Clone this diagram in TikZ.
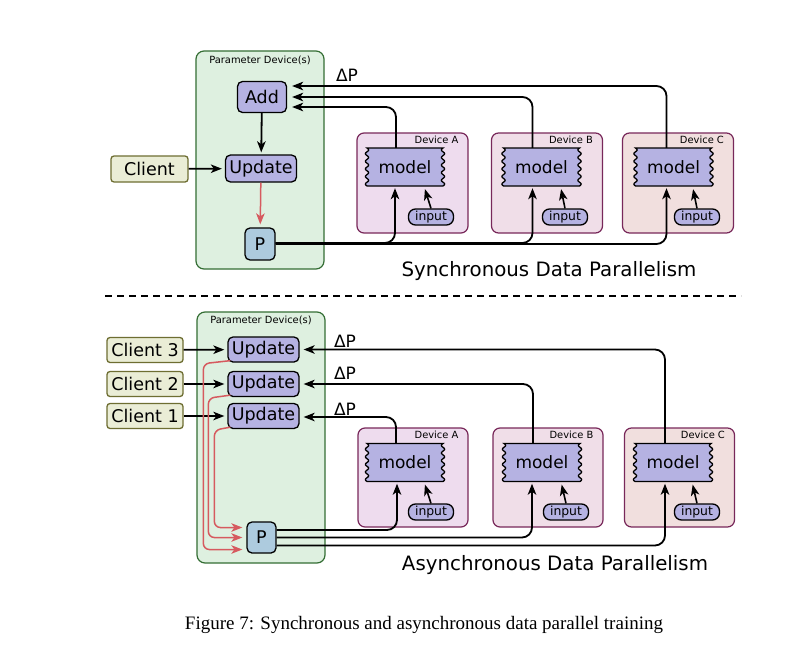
\documentclass[tikz,border=0pt]{standalone}
\usepackage{fontspec}
\setmainfont{DejaVu Sans}
\newfontfamily\capfont{Liberation Serif}
\usetikzlibrary{arrows.meta,calc}
\pgfdeclarelayer{back}
\pgfsetlayers{back,main}

\definecolor{lav}{RGB}{181,178,226}
\definecolor{pblue}{RGB}{173,203,222}
\definecolor{pgfill}{RGB}{222,240,224}
\definecolor{pgline}{RGB}{52,110,52}
\definecolor{devline}{RGB}{120,40,90}
\definecolor{devAfill}{RGB}{238,220,238}
\definecolor{devBfill}{RGB}{240,222,232}
\definecolor{devCfill}{RGB}{241,223,222}
\definecolor{clfill}{RGB}{234,237,214}
\definecolor{clline}{RGB}{110,110,50}
\definecolor{myred}{RGB}{214,90,95}

\tikzset{
  rnode/.style={draw=black, line width=1.3pt, rounded corners=5pt, fill=lav, inner sep=0pt,
    font=\fontsize{17.5}{20}\selectfont},
  pnode/.style={rnode, fill=pblue, minimum width=30pt, minimum height=32pt},
  cnode/.style={draw=clline, line width=1.3pt, rounded corners=3pt, fill=clfill, inner sep=0pt,
    minimum width=77pt, minimum height=26pt, font=\fontsize{17.5}{20}\selectfont},
  inode/.style={draw=black, line width=1.3pt, rounded corners=7pt, fill=lav, inner sep=0pt,
    minimum width=45pt, minimum height=16pt, font=\fontsize{12.4}{14}\selectfont},
  mnode/.style={inner sep=0pt, minimum width=76pt, minimum height=38pt, font=\fontsize{17}{20}\selectfont},
  mshape/.style={draw=black, line width=1.3pt, fill=lav},
  pbox/.style={draw=pgline, line width=1.2pt, rounded corners=8pt, fill=pgfill, inner sep=0pt},
  devbox/.style={draw=devline, line width=1.2pt, rounded corners=7pt, inner sep=0pt,
    minimum width=111pt, minimum height=100pt},
  smalllab/.style={inner sep=0pt, font=\fontsize{9.9}{11}\selectfont},
  title/.style={inner sep=0pt, font=\fontsize{19.8}{22}\selectfont},
  dplab/.style={inner sep=0pt, font=\fontsize{17}{20}\selectfont},
  arr/.style={-{Stealth[length=11pt,width=8.5pt,inset=3pt]}, line width=1.8pt},
  redarr/.style={-{Stealth[length=11pt,width=8.5pt,inset=3pt]}, line width=1.5pt, draw=myred},
}

\newcommand\modelshape[2]{%
  \filldraw[mshape] plot[domain=-19:19, samples=100, smooth] ({#1+38+1.6*sin(\x*360/7.6)},{#2+\x})
    -- plot[domain=19:-19, samples=100, smooth] ({#1-38-1.6*sin(\x*360/7.6)},{#2+\x}) -- cycle;}

\begin{document}
\begin{tikzpicture}[x=1pt,y=-1pt]
\useasboundingbox (0,0) rectangle (812,651);

% ================= TOP: synchronous =================
\begin{pgfonlayer}{back}
\fill[white] (0,0) rectangle (812,651);
\node[pbox, minimum width=128pt, minimum height=218pt] (pdT) at (260,160) {};
\node[devbox, fill=devAfill] (dAT) at (412.5,183) {};
\node[devbox, fill=devBfill] (dBT) at (547,183) {};
\node[devbox, fill=devCfill] (dCT) at (678,183) {};
\end{pgfonlayer}
\node[smalllab] (pdTl) at ([yshift=-10pt]pdT.north) {Parameter Device(s)};
\node[smalllab, anchor=east] (dATl) at ([xshift=-10pt,yshift=-7pt]dAT.north east) {Device A};
\node[smalllab, anchor=east] (dBTl) at ([xshift=-10pt,yshift=-7pt]dBT.north east) {Device B};
\node[smalllab, anchor=east] (dCTl) at ([xshift=-10pt,yshift=-7pt]dCT.north east) {Device C};

\node[rnode, minimum width=49pt, minimum height=31pt] (addT) at (262,97) {Add};
\node[rnode, minimum width=71pt, minimum height=27pt] (updT) at (261,168.5) {Update};
\node[pnode] (pT) at (260,244) {P};
\node[cnode] (clT) at (149.5,169) {Client};

\modelshape{405}{167}
\node[mnode] (mAT) at (405,167) {model};
\modelshape{541.5}{167}
\node[mnode] (mBT) at (541.5,167) {model};
\modelshape{673.5}{167}
\node[mnode] (mCT) at (673.5,167) {model};

\node[inode] (iAT) at (431,217) {input};
\node[inode] (iBT) at (565,217) {input};
\node[inode] (iCT) at (697,217) {input};

\draw[arr, shorten >=2pt] (addT) -- (updT);
\draw[redarr, shorten >=3pt] (updT) -- (pT);
\draw[arr, shorten >=3pt] (clT) -- (updT);

\draw[arr, rounded corners=10pt, shorten >=5pt] ([xshift=-9pt]mAT.north) |- ([yshift=-10pt]addT.east);
\draw[arr, rounded corners=10pt, shorten >=5pt] ([xshift=-9pt]mBT.north) |- (addT.east);
\draw[arr, rounded corners=10pt, shorten >=5pt] ([xshift=-7pt]mCT.north) |- ([yshift=11pt]addT.east);
\node[dplab] (dpT) at (347,75) {ΔP};

\draw[arr, rounded corners=10pt, shorten >=2pt] ([yshift=1pt]pT.east) -| ([xshift=-10pt]mAT.south);
\draw[arr, rounded corners=10pt, shorten >=2pt] ([yshift=1pt]pT.east) -| ([xshift=-9pt]mBT.south);
\draw[arr, rounded corners=10pt, shorten >=2pt] ([yshift=0pt]pT.east) -| ([xshift=-7pt]mCT.south);

\draw[arr, line width=1.6pt, shorten >=3pt] (iAT.north) -- ([xshift=19pt]mAT.south);
\draw[arr, line width=1.6pt, shorten >=3pt] (iBT.north) -- ([xshift=19pt]mBT.south);
\draw[arr, line width=1.6pt, shorten >=3pt] (iCT.north) -- ([xshift=19pt]mCT.south);

\node[title] (tT) at (549,271) {Synchronous Data Parallelism};

% ================= separator =================
\coordinate (sepL) at (105,296);
\coordinate (sepR) at (741,296);
\draw[line width=2.4pt, dash pattern=on 7pt off 5pt] (sepL) -- (sepR);

% ================= BOTTOM: asynchronous =================
\begin{pgfonlayer}{back}
\node[pbox, minimum width=128pt, minimum height=251pt] (pdB) at (261,437.5) {};
\node[devbox, fill=devAfill, minimum width=110pt, minimum height=99pt] (dAB) at (413,477.5) {};
\node[devbox, fill=devBfill, minimum width=110pt, minimum height=99pt] (dBB) at (548,477.5) {};
\node[devbox, fill=devCfill, minimum width=110pt, minimum height=99pt] (dCB) at (679.5,477.5) {};
\end{pgfonlayer}
\node[smalllab] (pdBl) at ([yshift=-9pt]pdB.north) {Parameter Device(s)};
\node[smalllab, anchor=east] (dABl) at ([xshift=-10pt,yshift=-7pt]dAB.north east) {Device A};
\node[smalllab, anchor=east] (dBBl) at ([xshift=-10pt,yshift=-7pt]dBB.north east) {Device B};
\node[smalllab, anchor=east] (dCBl) at ([xshift=-10pt,yshift=-7pt]dCB.north east) {Device C};

\node[rnode, minimum width=71pt, minimum height=25pt] (u3) at (263.5,349.5) {Update};
\node[rnode, minimum width=71pt, minimum height=25pt] (u2) at (263.5,384) {Update};
\node[rnode, minimum width=71pt, minimum height=25pt] (u1) at (263.5,416) {Update};
\node[pnode, minimum width=29pt, minimum height=31pt] (pB) at (261.5,537.5) {P};

\node[cnode, minimum width=76pt, minimum height=25pt] (c3) at (145,350) {Client 3};
\node[cnode, minimum width=76pt, minimum height=25pt] (c2) at (145,384) {Client 2};
\node[cnode, minimum width=76pt, minimum height=25pt] (c1) at (145,416) {Client 1};

\modelshape{405}{462.5}
\node[mnode] (mAB) at (405,462.5) {model};
\modelshape{542}{462.5}
\node[mnode] (mBB) at (542,462.5) {model};
\modelshape{673}{462.5}
\node[mnode] (mCB) at (673,462.5) {model};

\node[inode] (iAB) at (431,512) {input};
\node[inode] (iBB) at (566,512) {input};
\node[inode] (iCB) at (697,512) {input};

\draw[arr, shorten >=3pt] (c3) -- (u3);
\draw[arr, shorten >=3pt] (c2) -- (u2);
\draw[arr, shorten >=3pt] (c1) -- (u1);

\draw[redarr, rounded corners=6pt, shorten >=4pt] ([xshift=3pt,yshift=2pt]u3.south west) -- ++(-27,3) |- ([yshift=-12pt]pB.west);
\draw[redarr, rounded corners=6pt, shorten >=4pt] ([xshift=3pt,yshift=2pt]u2.south west) -- ++(-22,3) |- (pB.west);
\draw[redarr, rounded corners=6pt, shorten >=4pt] ([xshift=3pt,yshift=2pt]u1.south west) -- ++(-16,3) |- ([yshift=10pt]pB.west);

\draw[arr, rounded corners=10pt, shorten >=4pt] ([xshift=-8pt]mCB.north) |- (u3.east);
\draw[arr, rounded corners=10pt, shorten >=4pt] ([xshift=-9pt]mBB.north) |- (u2.east);
\draw[arr, rounded corners=10pt, shorten >=4pt] ([xshift=-9pt]mAB.north) |- ([yshift=-1pt]u1.east);
\node[dplab] (dp3) at (345,341) {ΔP};
\node[dplab] (dp2) at (345,373) {ΔP};
\node[dplab] (dp1) at (345,409) {ΔP};

\draw[arr, rounded corners=10pt, shorten >=2pt] ([yshift=7.5pt]pB.east) -| ([xshift=-8pt]mAB.south);
\draw[arr, rounded corners=10pt, shorten >=2pt] ([yshift=0pt]pB.east) -| ([xshift=-10pt]mBB.south);
\draw[arr, rounded corners=10pt, shorten >=2pt] ([yshift=-8pt]pB.east) -| ([xshift=-8pt]mCB.south);

\draw[arr, line width=1.6pt, shorten >=3pt] (iAB.north) -- ([xshift=19pt]mAB.south);
\draw[arr, line width=1.6pt, shorten >=3pt] (iBB.north) -- ([xshift=19pt]mBB.south);
\draw[arr, line width=1.6pt, shorten >=3pt] (iCB.north) -- ([xshift=19pt]mCB.south);

\node[title] (tB) at (555,565) {Asynchronous Data Parallelism};

\node[inner sep=0pt, font=\capfont\fontsize{19}{22}\selectfont] (cap) at (424,625)
  {Figure 7: Synchronous and asynchronous data parallel training};
\end{tikzpicture}
\end{document}
